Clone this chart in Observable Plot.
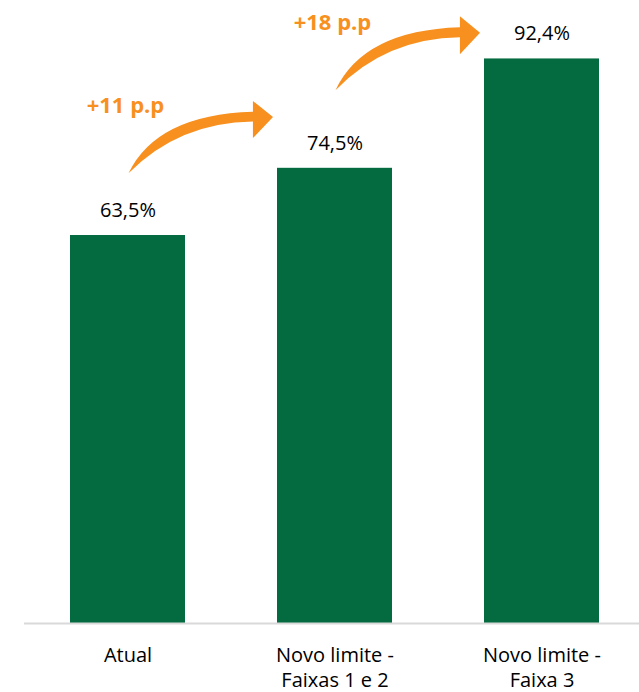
<!DOCTYPE html>
<html>
<head>
<meta charset="utf-8">
<script src="https://cdn.jsdelivr.net/npm/d3@7"></script>
<script src="https://cdn.jsdelivr.net/npm/@observablehq/plot@0.6"></script>
<style>
  html, body { margin: 0; padding: 0; background: #fff; }
  svg { display: block; }
</style>
</head>
<body>
<div id="chart"></div>
<script>
const categories = ["Atual", "Novo limite - Faixas 1 e 2", "Novo limite - Faixa 3"];
const tickLabels = ["Atual", "Novo limite -\nFaixas 1 e 2", "Novo limite -\nFaixa 3"];
const values = [63.5, 74.5, 92.4];
const arrowLabels = ["+11 p.p", "+18 p.p"];
// annotation anchors (data units): tail and tip heights
const arrowTailY = [73.6, 87.2];
const arrowTipY = [82.8, 96.6];

const GREEN = "#036B3F";
const ORANGE = "#F7901E";
const FONT = "Open Sans";

const data = categories.map((c, i) => ({ category: c, value: values[i] }));
const fmt = v => v.toFixed(1).replace(".", ",") + "%";
const tickMap = new Map(categories.map((c, i) => [c, tickLabels[i]]));

const plot = Plot.plot({
  width: 639,
  height: 692,
  marginTop: 12,
  marginBottom: 69,
  marginLeft: 24,
  marginRight: 0,
  style: { fontFamily: FONT, background: "#fff", color: "#000" },
  x: { domain: categories, paddingInner: 0.4444, paddingOuter: 0.2077, align: 0.535, label: null },
  y: { domain: [0, 100], axis: null },
  marks: [
    Plot.barY(data, { x: "category", y: "value", fill: GREEN }),
    Plot.ruleY([0], { stroke: "#d9d9d9", strokeWidth: 2 }),
    Plot.text(data, {
      x: "category", y: "value", text: d => fmt(d.value),
      dy: -25, fontSize: 20, fill: "#000"
    }),
    Plot.axisX({
      tickSize: 0, tickPadding: 21, fontSize: 20, lineHeight: 1.24,
      tickFormat: d => tickMap.get(d), fill: "#000", label: null
    })
  ]
});

document.getElementById("chart").appendChild(plot);

// Curved orange arrows built from the plot's own scales
const xs = plot.scale("x");
const ys = plot.scale("y");
const bw = xs.bandwidth;
const svg = d3.select(plot);
const g = svg.append("g");
const shape = "M0,0 Q28,-60 124,-63 L124,-74 L144,-57.5 L124,-36 L124,-53 Q50,-52 0,0 Z";
arrowLabels.forEach((lab, i) => {
  const cx = xs.apply(categories[i]) + bw / 2;
  const tx = cx + 1;
  const ty = ys.apply(arrowTailY[i]);
  const tipX = xs.apply(categories[i + 1]) - 4;
  const tipY = ys.apply(arrowTipY[i]);
  const sx = (tipX - tx) / 144;
  const sy = (tipY - ty) / -57.5;
  g.append("path")
    .attr("d", shape)
    .attr("fill", ORANGE)
    .attr("transform", `translate(${tx},${ty}) scale(${sx},${sy})`);
  g.append("text")
    .attr("x", cx - 2)
    .attr("y", ty - 68)
    .attr("dy", "0.35em")
    .attr("text-anchor", "middle")
    .attr("font-family", FONT)
    .attr("font-weight", "bold")
    .attr("font-size", 22)
    .attr("fill", ORANGE)
    .text(lab);
});
</script>
</body>
</html>
